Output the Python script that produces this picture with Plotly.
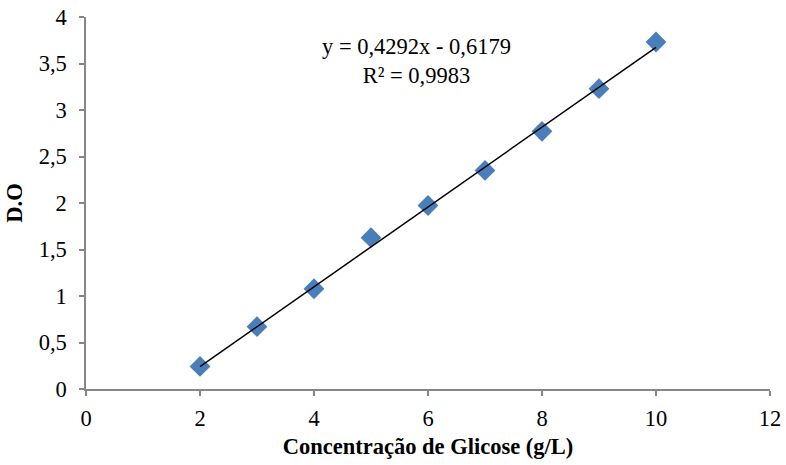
import plotly.graph_objects as go

conc = [2, 3, 4, 5, 6, 7, 8, 9, 10]
do_vals = [0.243, 0.670, 1.078, 1.627, 1.973, 2.350, 2.771, 3.229, 3.731]
slope = 0.4292
intercept = -0.6179
r2 = 0.9983
x_ticks = [0, 2, 4, 6, 8, 10, 12]
y_ticks = [0, 0.5, 1, 1.5, 2, 2.5, 3, 3.5, 4]
y_tick_labels = ["0", "0,5", "1", "1,5", "2", "2,5", "3", "3,5", "4"]

trend_x = [min(conc), max(conc)]
trend_y = [slope * v + intercept for v in trend_x]

font = "Liberation Serif"
fs = 22.5

fig = go.Figure()
fig.add_trace(go.Scatter(x=conc, y=do_vals, mode="markers",
                         marker=dict(symbol="diamond", size=16, color="#4a7ebb"),
                         showlegend=False))
fig.add_trace(go.Scatter(x=trend_x, y=trend_y, mode="lines",
                         line=dict(color="black", width=1.5), showlegend=False))

axis_common = dict(showgrid=False, zeroline=False, showline=True, linecolor="#868686",
                   linewidth=1.5, ticks="outside", tickcolor="#868686", ticklen=5,
                   tickwidth=1.5, tickfont=dict(family=font, size=fs, color="black"),
                   automargin=False)

eq_text = f"y = {slope:.4f}x - {abs(intercept):.4f}".replace(".", ",") + "<br>" + \
          f"R² = {r2:.4f}".replace(".", ",")

fig.update_layout(
    width=786, height=465,
    margin=dict(l=86, r=16, t=17, b=76),
    plot_bgcolor="white", paper_bgcolor="white",
    font=dict(family=font, color="black"),
    xaxis=dict(range=[0, 12], tickvals=x_ticks, ticktext=[str(v) for v in x_ticks],
               ticklabelstandoff=3,
               title=dict(text="<b>Concentração de Glicose (g/L)</b>",
                          font=dict(family=font, size=fs), standoff=8),
               **axis_common),
    yaxis=dict(range=[0, 4], tickvals=y_ticks, ticktext=y_tick_labels,
               ticklabelstandoff=8,
               title=dict(text="<b>D.O</b>", font=dict(family=font, size=fs), standoff=10),
               **axis_common),
    annotations=[dict(x=5.79, y=3.53, xref="x", yref="y", showarrow=False,
                      text=eq_text,
                      font=dict(family=font, size=fs, color="black"), align="center")]
)

fig.write_html("out.html", config={"displayModeBar": False},
               post_script="document.body.style.margin='0';document.body.style.padding='0';")
